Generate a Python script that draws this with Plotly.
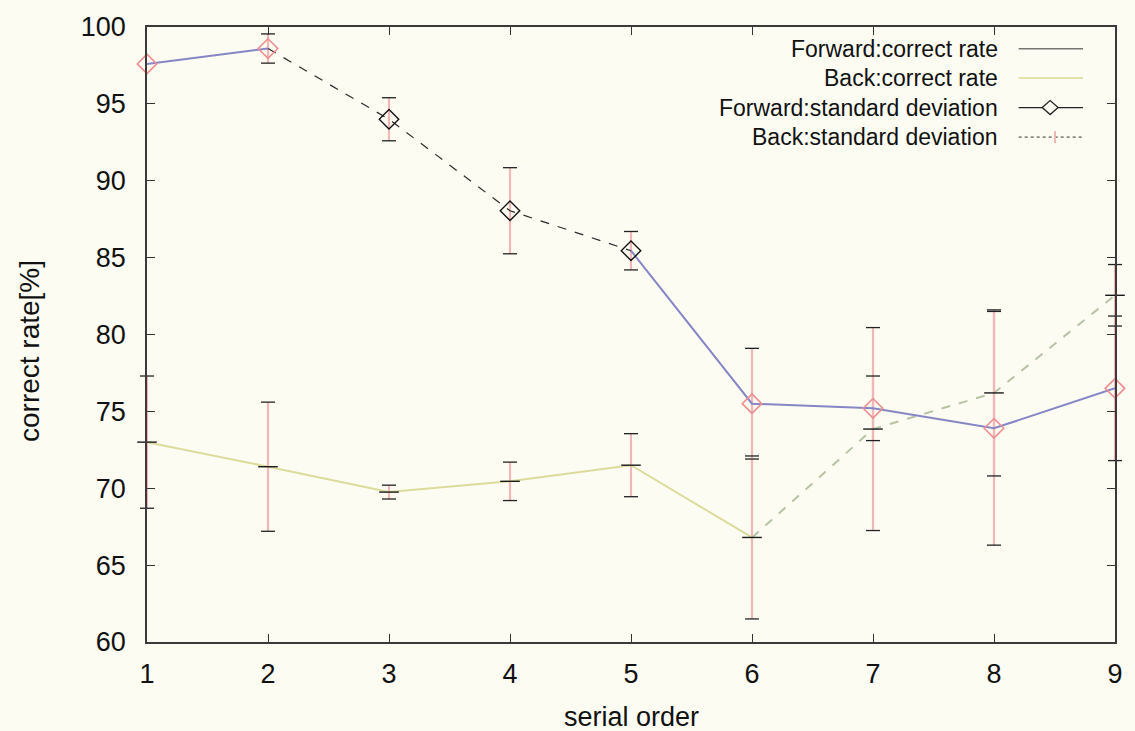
import plotly.graph_objects as go

# ---- data -------------------------------------------------------------
serial_order = [1, 2, 3, 4, 5, 6, 7, 8, 9]

forward_rate = [97.6, 98.6, 94.0, 88.05, 85.45, 75.5, 75.2, 73.9, 76.5]
forward_sd = [0.0, 0.95, 1.4, 2.8, 1.25, 3.6, 2.1, 7.6, 4.7]

back_rate = [73.0, 71.4, 69.75, 70.45, 71.5, 66.8, 73.85, 76.2, 82.55]
back_sd = [4.3, 4.2, 0.45, 1.25, 2.05, 5.3, 6.6, 5.4, 2.0]

y_ticks = [60, 65, 70, 75, 80, 85, 90, 95, 100]

legend_names = [
    "Forward:correct rate",
    "Back:correct rate",
    "Forward:standard deviation",
    "Back:standard deviation",
]

# ---- styles -----------------------------------------------------------
BG = "#fcfcf3"
FONT = "Liberation Sans, Arial, sans-serif"
FWD_LINE = "#8686c6"
FWD_MARK = "#ee8e8e"
BACK_LINE = "#dcdb9c"
BACK_DASH = "#b8c3a4"
ERR = "#f1b6b6"
DARK_SPAN = (1, 4)      # forward points joined by the dark dashed stroke
BACK_SOLID_END = 5      # back series is solid up to this index, dashed after

fig = go.Figure()


def err_trace(x, y, sd):
    fig.add_trace(go.Scatter(
        x=x, y=y, mode="markers", marker=dict(size=1, opacity=0),
        error_y=dict(type="data", array=sd, visible=True, color=ERR,
                     thickness=2.2, width=0),
        showlegend=False, hoverinfo="skip", cliponaxis=False))


def cap_trace(x, y, sd):
    cx, cy = [], []
    for xi, yi, si in zip(x, y, sd):
        if si > 0:
            cx += [xi, xi]
            cy += [yi - si, yi + si]
    fig.add_trace(go.Scatter(
        x=cx, y=cy, mode="markers",
        marker=dict(symbol="line-ew", size=10, color="#222222",
                    line=dict(color="#222222", width=1.3)),
        showlegend=False, hoverinfo="skip", cliponaxis=False))


# error bars (pink stems, dark caps)
err_trace(serial_order, forward_rate, forward_sd)
err_trace(serial_order, back_rate, back_sd)
cap_trace(serial_order, forward_rate, forward_sd)
cap_trace(serial_order, back_rate, back_sd)

# back correct rate: solid then dashed
b = BACK_SOLID_END
fig.add_trace(go.Scatter(
    x=serial_order[:b + 1], y=back_rate[:b + 1], mode="lines",
    line=dict(color=BACK_LINE, width=2), showlegend=False, cliponaxis=False))
fig.add_trace(go.Scatter(
    x=serial_order[b:], y=back_rate[b:], mode="lines",
    line=dict(color=BACK_DASH, width=2, dash="dash"), showlegend=False,
    cliponaxis=False))
# back mean ticks
fig.add_trace(go.Scatter(
    x=serial_order, y=back_rate, mode="markers",
    marker=dict(symbol="line-ew", size=14, color="#1a1a1a",
                line=dict(color="#1a1a1a", width=1.4)),
    showlegend=False, cliponaxis=False))

# forward correct rate: coloured stroke outside the dark span
s0, s1 = DARK_SPAN
fx = serial_order[:s0 + 1] + [None] + serial_order[s1:]
fy = forward_rate[:s0 + 1] + [None] + forward_rate[s1:]
fig.add_trace(go.Scatter(
    x=fx, y=fy, mode="lines", line=dict(color=FWD_LINE, width=2),
    connectgaps=False, showlegend=False, cliponaxis=False))
fig.add_trace(go.Scatter(
    x=serial_order[s0:s1 + 1], y=forward_rate[s0:s1 + 1], mode="lines",
    line=dict(color="#2a2a2a", width=1.2, dash="dash"),
    showlegend=False, cliponaxis=False))
# forward markers
red_idx = [i for i in range(len(serial_order)) if not (s0 < i <= s1)]
blk_idx = [i for i in range(len(serial_order)) if s0 < i <= s1]
fig.add_trace(go.Scatter(
    x=[serial_order[i] for i in red_idx], y=[forward_rate[i] for i in red_idx],
    mode="markers",
    marker=dict(symbol="diamond-open", size=15, color=FWD_MARK,
                line=dict(color=FWD_MARK, width=1.6)),
    showlegend=False, cliponaxis=False))
fig.add_trace(go.Scatter(
    x=[serial_order[i] for i in blk_idx], y=[forward_rate[i] for i in blk_idx],
    mode="markers",
    marker=dict(symbol="diamond-open", size=15, color="#111111",
                line=dict(color="#111111", width=1.4)),
    showlegend=False, cliponaxis=False))

# ---- key (right-aligned text, samples on the right) -------------------
PLOT_W, PLOT_H = 975.0, 619.0
key_text_x = 0.881
key_rows = [0.9645, 0.917, 0.869, 0.821]
seg_x0, seg_x1, seg_mid = 0.9005, 0.967, 0.933
shapes = []
annotations = []
for name, ky in zip(legend_names, key_rows):
    annotations.append(dict(
        x=key_text_x, y=ky, xref="paper", yref="paper", text=name,
        showarrow=False, xanchor="right", yanchor="middle",
        font=dict(family=FONT, size=23, color="#111111")))

shapes.append(dict(type="line", xref="paper", yref="paper",
                   x0=seg_x0, x1=seg_x1, y0=key_rows[0], y1=key_rows[0],
                   line=dict(color="#333333", width=1)))
shapes.append(dict(type="line", xref="paper", yref="paper",
                   x0=seg_x0, x1=seg_x1, y0=key_rows[1], y1=key_rows[1],
                   line=dict(color="#e4e3a8", width=2)))
shapes.append(dict(type="line", xref="paper", yref="paper",
                   x0=seg_x0, x1=seg_x1, y0=key_rows[2], y1=key_rows[2],
                   line=dict(color="#222222", width=1.2)))
dx, dy = 8 / PLOT_W, 7 / PLOT_H
yc = key_rows[2]
shapes.append(dict(
    type="path", xref="paper", yref="paper",
    path=(f"M {seg_mid - dx} {yc} L {seg_mid} {yc + dy} "
          f"L {seg_mid + dx} {yc} L {seg_mid} {yc - dy} Z"),
    fillcolor=BG, line=dict(color="#222222", width=1.3)))
shapes.append(dict(type="line", xref="paper", yref="paper",
                   x0=seg_x0, x1=seg_x1, y0=key_rows[3], y1=key_rows[3],
                   line=dict(color="#333333", width=1, dash="dot")))
shapes.append(dict(type="line", xref="paper", yref="paper",
                   x0=seg_mid + 0.005, x1=seg_mid + 0.005,
                   y0=key_rows[3] - 6 / PLOT_H, y1=key_rows[3] + 6 / PLOT_H,
                   line=dict(color=ERR, width=2)))

# axis titles
annotations.append(dict(
    x=0.5, y=-0.122, xref="paper", yref="paper", text="serial order",
    showarrow=False, xanchor="center", yanchor="middle",
    font=dict(family=FONT, size=27, color="#111111")))
annotations.append(dict(
    x=-0.122, y=0.473, xref="paper", yref="paper", text="correct rate[%]",
    showarrow=False, xanchor="center", yanchor="middle", textangle=-90,
    font=dict(family=FONT, size=28, color="#111111")))

axis_common = dict(
    showgrid=False, zeroline=False, showline=True, linecolor="#3a3a3a",
    linewidth=1.5, mirror="ticks", ticks="inside", ticklen=8,
    tickcolor="#333333", tickwidth=1,
    tickfont=dict(family=FONT, size=27, color="#111111"))

fig.update_layout(
    width=1135, height=731,
    margin=dict(l=147, r=13, t=23, b=89),
    paper_bgcolor=BG, plot_bgcolor=BG,
    showlegend=False,
    xaxis=dict(range=[1, 9], tickvals=serial_order, ticklabelstandoff=7,
               **axis_common),
    yaxis=dict(range=[60, 100], tickvals=y_ticks, ticklabelstandoff=14,
               **axis_common),
    shapes=shapes, annotations=annotations,
)

fig.write_html("out.html")
